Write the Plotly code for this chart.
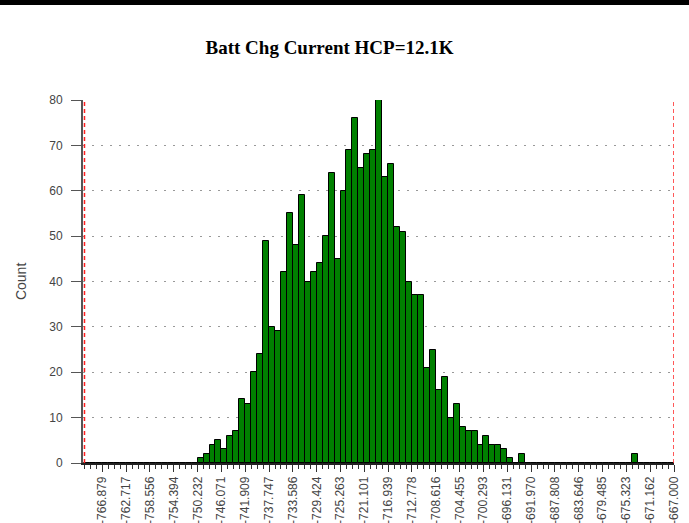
import plotly.graph_objects as go

# ---- data ----
bin_start = -770.0
bin_end = -667.0
n_bins = 99
counts = [
    0, 0, 0, 0, 0, 0, 0, 0, 0, 0,
    0, 0, 0, 0, 0, 0, 0, 0, 0, 1,
    2, 4, 5, 3, 6, 7, 14, 13, 20, 24,
    49, 30, 29, 42, 55, 48, 59, 40, 42, 44,
    50, 64, 45, 60, 69, 76, 65, 68, 69, 80,
    63, 66, 52, 51, 40, 37, 37, 21, 25, 16,
    19, 10, 13, 8, 7, 7, 4, 6, 4, 4,
    3, 1, 0, 2, 0, 0, 0, 0, 0, 0,
    0, 0, 0, 0, 0, 0, 0, 0, 0, 0,
    0, 0, 2, 0, 0, 0, 0, 0, 0,
]
tick_labels = [
    "-766.879", "-762.717", "-758.556", "-754.394", "-750.232", "-746.071",
    "-741.909", "-737.747", "-733.586", "-729.424", "-725.263", "-721.101",
    "-716.939", "-712.778", "-708.616", "-704.455", "-700.293", "-696.131",
    "-691.970", "-687.808", "-683.646", "-679.485", "-675.323", "-671.162",
    "-667.000",
]
spec_limits = [-770.0, -667.0]
title = "Batt Chg Current HCP=12.1K"

# ---- derived ----
bw = (bin_end - bin_start) / n_bins
centers = [bin_start + (i + 0.5) * bw for i in range(n_bins)]
edges = [bin_start + i * bw for i in range(n_bins + 1)]
tick_vals = [float(t) for t in tick_labels]

fig = go.Figure()
fig.add_trace(go.Bar(
    x=centers, y=counts, width=bw,
    marker=dict(color="#008000", line=dict(color="#000000", width=1)),
    hoverinfo="x+y",
))

fig.update_layout(
    width=689, height=523, autosize=False,
    margin=dict(l=83, r=15, t=100, b=60, autoexpand=False),
    plot_bgcolor="white", paper_bgcolor="white",
    showlegend=False, bargap=0,
    font=dict(family="Liberation Sans", color="#444444"),
    title=dict(text="<b>" + title + "</b>",
               font=dict(family="Liberation Serif", size=19, color="#000000"),
               xref="container", x=329.5 / 689, xanchor="center",
               yref="container", y=1 - 47 / 523, yanchor="middle",
               automargin=False),
)
fig.update_xaxes(
    range=[bin_start - 0.26, bin_end], automargin=False,
    tickmode="array", tickvals=tick_vals, ticktext=tick_labels,
    tickangle=-90, ticks="outside", ticklen=7, tickcolor="#333333",
    tickfont=dict(size=12, color="#444444"),
    showline=True, linecolor="#222222", linewidth=1.5,
    showgrid=False, zeroline=False,
    minor=dict(tickmode="array", tickvals=edges, ticks="outside",
               ticklen=4, tickcolor="#333333", showgrid=False),
)
fig.update_yaxes(
    range=[0, 80], automargin=False, tickmode="linear", tick0=0, dtick=10,
    ticks="outside", ticklen=10, tickcolor="#555555",
    tickfont=dict(size=12, color="#444444"), ticklabelstandoff=6,
    showline=True, linecolor="#555555", linewidth=2,
    showgrid=True, gridcolor="#999999", griddash="2px,7px", gridwidth=1,
    zeroline=False,
)
for lim in spec_limits:
    fig.add_shape(type="line", xref="x", yref="y", x0=lim, x1=lim, y0=0, y1=80,
                  line=dict(color="#ff2020", width=1.5, dash="4px,3px"), layer="above")
# black band at top
fig.add_shape(type="rect", xref="paper", yref="paper", x0=-0.2, x1=1.1,
              y0=(463.3 - 5) / 363.3, y1=1.4, fillcolor="#000000",
              line=dict(width=0), layer="above")
fig.add_annotation(text="Count", xref="paper", yref="paper",
                   x=(20.5 - 83) / 591.7, y=0.5, textangle=-90, showarrow=False,
                   font=dict(size=14, color="#444444"), xanchor="center", yanchor="middle")

fig.write_html(
    "out.html",
    config={"responsive": False, "displayModeBar": False},
    post_script="document.body.style.margin='0';document.body.style.overflow='hidden';",
)
